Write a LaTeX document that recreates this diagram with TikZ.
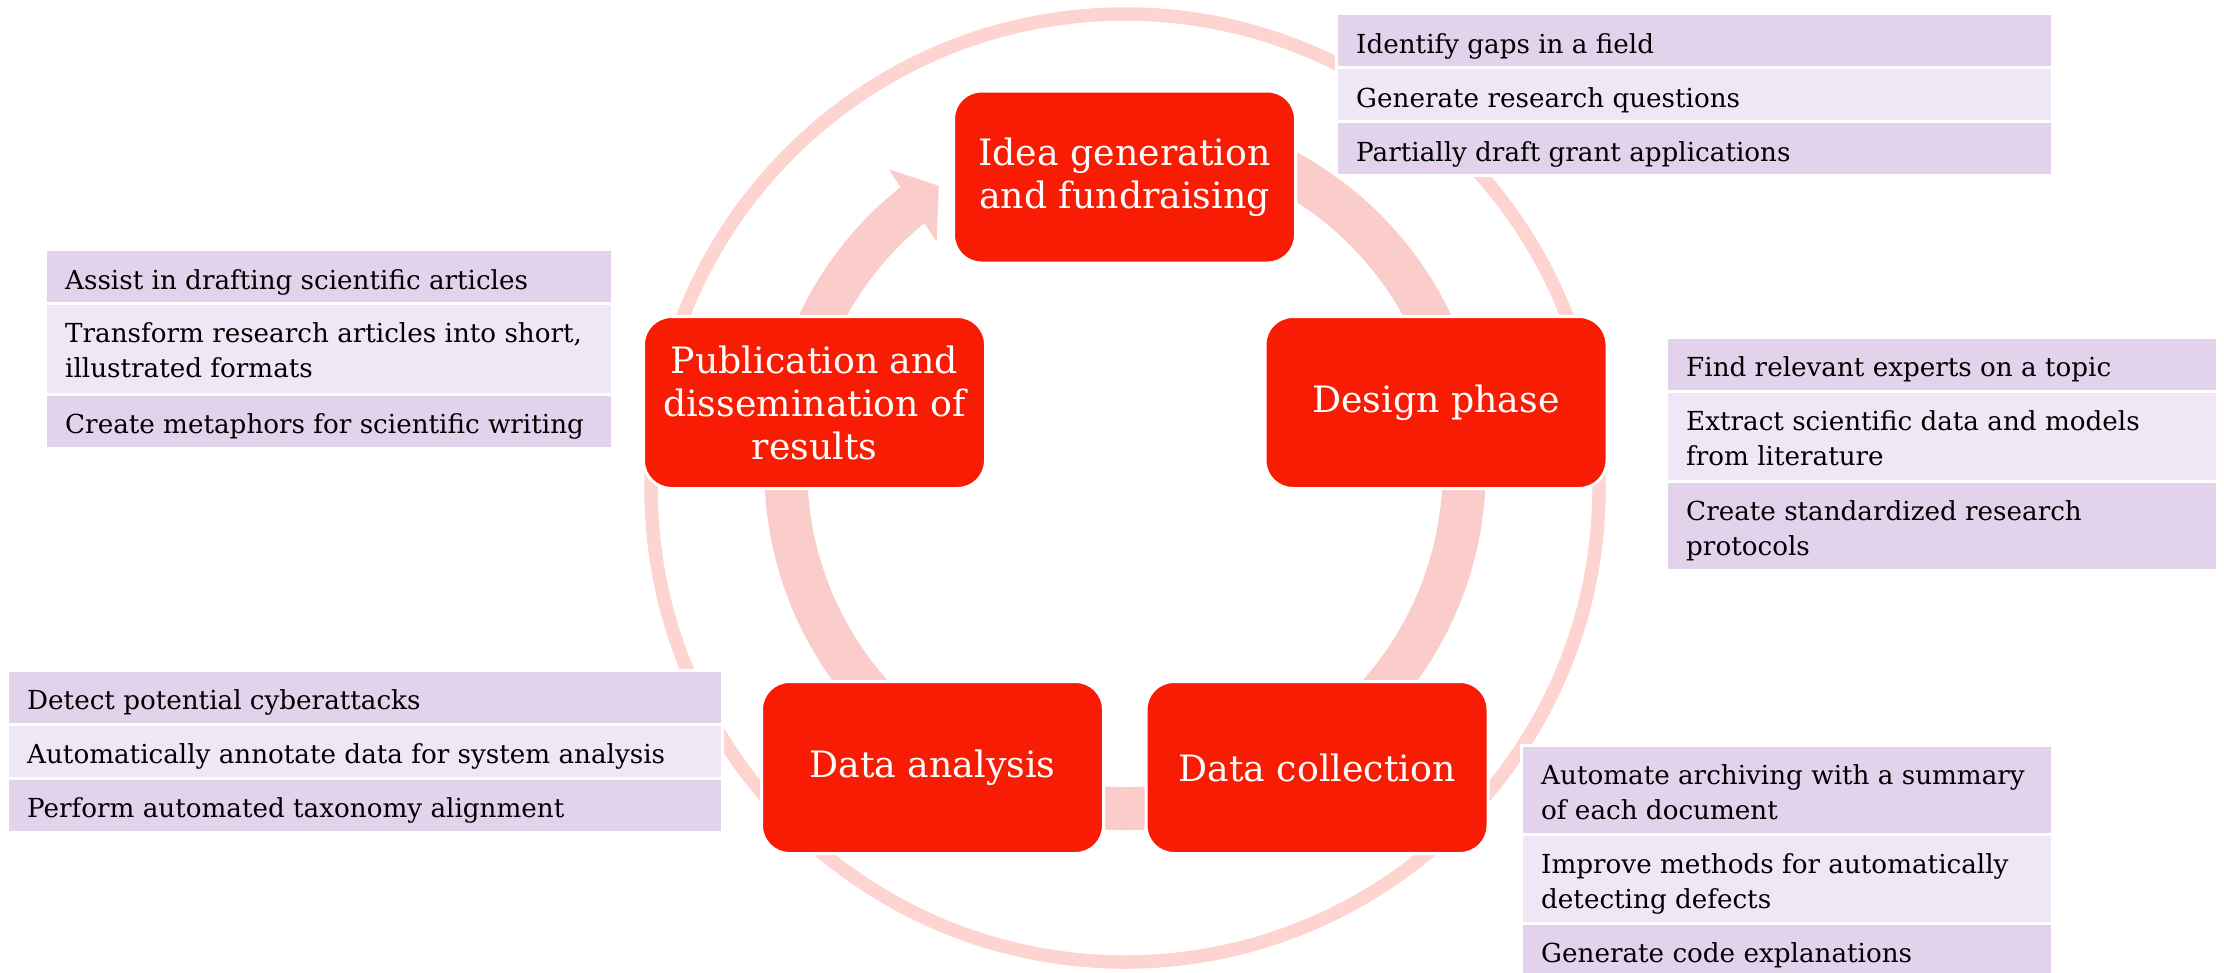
\documentclass[tikz,border=0pt]{standalone}
\usepackage{fontspec}
\setmainfont{DejaVu Serif}
\usetikzlibrary{calc}
\definecolor{redc}{RGB}{248,28,4}
\definecolor{bandc}{RGB}{250,205,203}
\definecolor{ringc}{RGB}{253,212,207}
\definecolor{pdark}{RGB}{227,210,236}
\definecolor{plight}{RGB}{240,231,246}
\newcommand\rowtext[1]{\vtop{\hsize=700pt\parindent=0pt\raggedright #1\par}}
\tikzset{
 redbox/.style={rectangle, rounded corners=28pt, fill=redc, draw=white, line width=3pt,
   minimum width=342pt, minimum height=172pt, inner sep=0pt, text=white, align=center,
   font=\fontsize{36.3}{43}\selectfont},
 prow/.style={rectangle, draw=white, line width=3pt, inner sep=0pt},
 pdk/.style={prow, fill=pdark},
 plt/.style={prow, fill=plight},
 ptxt/.style={anchor=base west, inner sep=0pt, text=black, font=\fontsize{26.2}{35}\selectfont},
}
\begin{document}
\begin{tikzpicture}[x=1pt,y=-1pt]
\useasboundingbox (0,0) rectangle (2224,972);
\clip (0,0) rectangle (2224,972);
% outer thin ring
\coordinate (RC) at (1125,488);
\draw[ringc, line width=13.5pt] (RC) circle[radius=474];
% circular arrow band
\coordinate (BC) at (1125,469.4);
\fill[bandc] ($(BC)+(-100:360.7)$) arc[start angle=-100, end angle=231.5, radius=360.7]
  -- ($(BC)+(231.8:382)$) -- ($(BC)+(236.7:339.2)$) -- ($(BC)+(230.4:295.5)$)
  -- ($(BC)+(230.8:317.7)$) arc[start angle=230.8, end angle=-100, radius=317.7] -- cycle;

% purple groups
% Idea group
\node[pdk, minimum width=716pt, minimum height=54pt] (ig1) at (1694.5,40.5) {};
\node[plt, minimum width=716pt, minimum height=54pt] (ig2) at (1694.5,94.5) {};
\node[pdk, minimum width=716pt, minimum height=54pt] (ig3) at (1694.5,148.5) {};
\node[ptxt] (ig1t) at (1356,53) {\rowtext{Identify gaps in a field}};
\node[ptxt] (ig2t) at (1356,107) {\rowtext{Generate research questions}};
\node[ptxt] (ig3t) at (1356,161) {\rowtext{Partially draft grant applications}};
% Publication group
\node[pdk, minimum width=567pt, minimum height=54pt] (pg1) at (329,276.5) {};
\node[plt, minimum width=567pt, minimum height=91pt] (pg2) at (329,349) {};
\node[pdk, minimum width=567pt, minimum height=54pt] (pg3) at (329,421.5) {};
\node[ptxt] (pg1t) at (65,289) {\rowtext{Assist in drafting scientific articles}};
\node[ptxt] (pg2t) at (65,342) {\rowtext{Transform research articles into short,\\illustrated formats}};
\node[ptxt] (pg3t) at (65,433) {\rowtext{Create metaphors for scientific writing}};
% Design group
\node[pdk, minimum width=551pt, minimum height=54pt] (dg1) at (1942,364.5) {};
\node[plt, minimum width=551pt, minimum height=90pt] (dg2) at (1942,436.5) {};
\node[pdk, minimum width=551pt, minimum height=89pt] (dg3) at (1942,526) {};
\node[ptxt] (dg1t) at (1686,376) {\rowtext{Find relevant experts on a topic}};
\node[ptxt] (dg2t) at (1686,430) {\rowtext{Extract scientific data and models\\from literature}};
\node[ptxt] (dg3t) at (1686,520) {\rowtext{Create standardized research\\protocols}};
% Analysis group
\node[pdk, minimum width=715pt, minimum height=54pt] (ag1) at (365,697.5) {};
\node[plt, minimum width=715pt, minimum height=54pt] (ag2) at (365,751.5) {};
\node[pdk, minimum width=715pt, minimum height=54pt] (ag3) at (365,805.5) {};
\node[ptxt] (ag1t) at (27,709) {\rowtext{Detect potential cyberattacks}};
\node[ptxt] (ag2t) at (27,763) {\rowtext{Automatically annotate data for system analysis}};
\node[ptxt] (ag3t) at (27,817) {\rowtext{Perform automated taxonomy alignment}};
% Collection group
\node[pdk, minimum width=530.5pt, minimum height=89pt] (cg1) at (1786.75,790) {};
\node[plt, minimum width=530.5pt, minimum height=89pt] (cg2) at (1786.75,879) {};
\node[pdk, minimum width=530.5pt, minimum height=54pt] (cg3) at (1786.75,950.5) {};
\node[ptxt] (cg1t) at (1541,784) {\rowtext{Automate archiving with a summary\\of each document}};
\node[ptxt] (cg2t) at (1541,873) {\rowtext{Improve methods for automatically\\detecting defects}};
\node[ptxt] (cg3t) at (1541,962) {\rowtext{Generate code explanations}};

% red stage boxes
\node[redbox] (idea) at (1124.5,177) {Idea generation\\and fundraising};
\node[redbox] (design) at (1436,402.5) {Design phase};
\node[redbox] (collect) at (1317,767.5) {Data collection};
\node[redbox] (analysis) at (932.5,767.5) {Data analysis};
\node[redbox] (pub) at (814.5,402.5) {Publication and\\dissemination of\\results};
\end{tikzpicture}
\end{document}
